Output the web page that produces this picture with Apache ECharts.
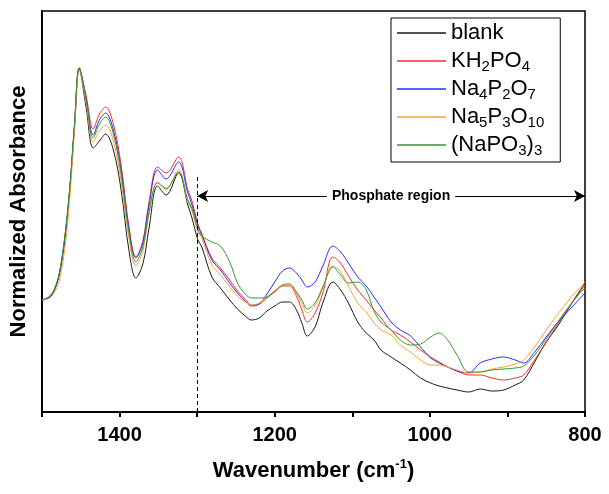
<!DOCTYPE html>
<html>
<head>
<meta charset="utf-8">
<script src="https://cdn.jsdelivr.net/npm/echarts@6/dist/echarts.min.js"></script>
<style>
  html, body { margin: 0; padding: 0; background: #fff; }
  #main { width: 609px; height: 494px; }
</style>
</head>
<body>
<div id="main"></div>
<script>
// wavenumber grid (cm-1), shared by all five spectra
let wavenumbers = [1500, 1490, 1483, 1477, 1470, 1464, 1458, 1452, 1443, 1434, 1426, 1418, 1408, 1398, 1388, 1379, 1370, 1362, 1351, 1340,
  1324, 1312, 1307, 1299, 1294, 1281, 1270, 1258, 1248, 1238, 1230, 1220, 1210, 1200, 1190, 1181, 1172, 1165, 1158, 1148,
  1138, 1125, 1115, 1105, 1093, 1082, 1072, 1063, 1050, 1038, 1025, 1012, 999, 988, 977, 965, 950, 935, 920, 905,
  890, 879, 865, 850, 836, 824, 812, 800];

// normalized absorbance (arbitrary units)
let blank = [112, 115, 124, 140, 177, 224, 287, 343, 304, 264, 271, 278, 262, 222, 162, 134, 148, 184, 226, 217,
  239, 207, 195, 172, 165, 135, 124, 112, 103, 96, 92, 94, 101, 106, 110, 110, 102, 89, 76, 85,
  109, 130, 122, 109, 90, 79, 72, 62, 55, 49, 42, 34, 29, 26, 24, 22, 20, 23, 21, 22,
  27, 32, 50, 70, 85, 100, 115, 129];
let kh2po4 = [112, 115, 124, 140, 177, 224, 287, 344, 316, 283, 298, 305, 288, 247, 186, 155, 171, 210, 245, 239,
  255, 222, 212, 188, 178, 154, 144, 132, 121, 113, 107, 108, 114, 120, 126, 126, 116, 102, 90, 99,
  119, 155, 149, 136, 122, 112, 102, 94, 82, 77, 70, 62, 55, 50, 45, 41, 37, 37, 34, 32,
  34, 37, 52, 70, 87, 101, 114, 127];
let na4p2o7 = [112, 115, 124, 140, 177, 224, 287, 344, 313, 277, 292, 299, 282, 242, 183, 154, 169, 207, 242, 233,
  250, 219, 208, 186, 177, 152, 142, 129, 119, 111, 106, 108, 118, 130, 141, 144, 139, 132, 125, 130,
  146, 166, 160, 149, 135, 126, 115, 105, 90, 82, 76, 65, 54, 49, 45, 41, 39, 49, 53, 55,
  52, 49, 60, 75, 89, 99, 109, 119];
let na5p3o10 = [112, 114, 121, 134, 167, 216, 282, 342, 309, 270, 281, 287, 271, 231, 174, 146, 161, 198, 230, 224,
  242, 210, 202, 180, 174, 147, 137, 125, 116, 110, 107, 109, 115, 121, 126, 127, 119, 109, 99, 106,
  124, 146, 140, 126, 109, 100, 89, 82, 77, 67, 60, 52, 47, 47, 45, 42, 39, 40, 43, 45,
  48, 52, 65, 82, 97, 109, 120, 130];
let napo3 = [112, 116, 125, 142, 180, 227, 290, 344, 311, 274, 288, 295, 278, 238, 180, 150, 165, 200, 229, 223,
  240, 212, 204, 183, 176, 170, 166, 150, 129, 118, 114, 114, 115, 121, 127, 128, 120, 112, 103, 109,
  125, 145, 137, 129, 130, 122, 101, 90, 82, 72, 67, 68, 75, 79, 72, 57, 40, 40, 42, 43,
  44, 46, 57, 73, 89, 102, 114, 124];

let seriesNames = ['blank', 'KH2PO4', 'Na4P2O7', 'Na5P3O10', '(NaPO3)3'];
let seriesColors = ['#1a1a1a', '#ff2a2a', '#2a2aff', '#ffa033', '#2f9a2f'];
let seriesValues = [blank, kh2po4, na4p2o7, na5p3o10, napo3];

// legend labels with subscripts (rich text)
let legendLabels = {
  'blank': 'blank',
  'KH2PO4': 'KH{s|2}PO{s|4}',
  'Na4P2O7': 'Na{s|4}P{s|2}O{s|7}',
  'Na5P3O10': 'Na{s|5}P{s|3}O{s|10}',
  '(NaPO3)3': '(NaPO{s|3}){s|3}'
};

// phosphate region annotation
let regionStart = 1300;
let regionEnd = 800;
let dashTop = 237;
let arrowLevel = 216;

let chartDom = document.getElementById('main');
let myChart = echarts.init(chartDom);
let font = 'Liberation Sans, Arial, sans-serif';

let series = seriesNames.map(function (name, i) {
  let s = {
    name: name,
    type: 'line',
    smooth: 0.35,
    symbol: 'none',
    lineStyle: { color: seriesColors[i], width: 1 },
    itemStyle: { color: seriesColors[i] },
    data: wavenumbers.map(function (w, j) { return [w, seriesValues[i][j]]; })
  };
  if (i === 0) {
    s.markLine = {
      silent: true,
      symbol: 'none',
      lineStyle: { color: '#000', type: [4, 3], width: 1 },
      label: { show: false },
      data: [[{ coord: [regionStart, 0] }, { coord: [regionStart, dashTop] }]]
    };
  }
  if (i === 1) {
    s.markLine = {
      silent: true,
      symbol: ['arrow', 'arrow'],
      symbolSize: [9, 11],
      lineStyle: { color: '#000', type: 'solid', width: 1.2 },
      label: {
        show: true,
        position: 'middle',
        formatter: 'Phosphate region',
        color: '#000',
        fontFamily: font,
        fontWeight: 'bold',
        fontSize: 14,
        backgroundColor: '#fff',
        padding: [2, 5],
        distance: 0,
        verticalAlign: 'middle'
      },
      data: [[{ coord: [regionStart, arrowLevel] }, { coord: [regionEnd, arrowLevel] }]]
    };
  }
  return s;
});

let option = {
  animation: false,
  grid: {
    left: 40,
    right: 24,
    top: 11,
    bottom: 82,
    show: true,
    borderColor: '#000',
    borderWidth: 1.5
  },
  legend: {
    data: seriesNames,
    left: 391,
    top: 18,
    orient: 'vertical',
    icon: 'rect',
    itemWidth: 49,
    itemHeight: 1.5,
    itemGap: 2,
    padding: [2, 16, 4, 6],
    borderColor: '#000',
    borderWidth: 1,
    formatter: function (name) { return legendLabels[name]; },
    textStyle: {
      fontFamily: font,
      fontSize: 22,
      color: '#000',
      lineHeight: 26,
      rich: {
        s: { fontFamily: font, fontSize: 15, color: '#000', lineHeight: 6, verticalAlign: 'bottom' }
      }
    }
  },
  xAxis: {
    type: 'value',
    min: 800,
    max: 1500,
    interval: 100,
    inverse: true,
    name: 'Wavenumber (cm{sup|-1})',
    nameLocation: 'middle',
    nameGap: 46,
    nameTextStyle: {
      fontFamily: font,
      fontSize: 22,
      fontWeight: 'bold',
      color: '#000',
      lineHeight: 26,
      rich: {
        sup: { fontFamily: font, fontSize: 13, fontWeight: 'bold', color: '#000', lineHeight: 12, verticalAlign: 'top' }
      }
    },
    axisLine: { lineStyle: { color: '#000', width: 2 } },
    axisTick: { length: 5, lineStyle: { color: '#000', width: 2 } },
    axisLabel: {
      margin: 13,
      fontFamily: font,
      fontSize: 20,
      fontWeight: 'bold',
      color: '#000',
      formatter: function (v) { return v % 200 === 0 ? v : ''; }
    },
    splitLine: { show: false }
  },
  yAxis: {
    type: 'value',
    min: 0,
    max: 401,
    name: 'Normalized Absorbance',
    nameLocation: 'middle',
    nameGap: 12,
    nameTextStyle: { fontFamily: font, fontSize: 22, fontWeight: 'bold', color: '#000' },
    axisLine: { show: true, lineStyle: { color: '#000', width: 2 } },
    axisTick: { show: false },
    axisLabel: { show: false },
    splitLine: { show: false }
  },
  series: series
};

option && myChart.setOption(option);
</script>
</body>
</html>
